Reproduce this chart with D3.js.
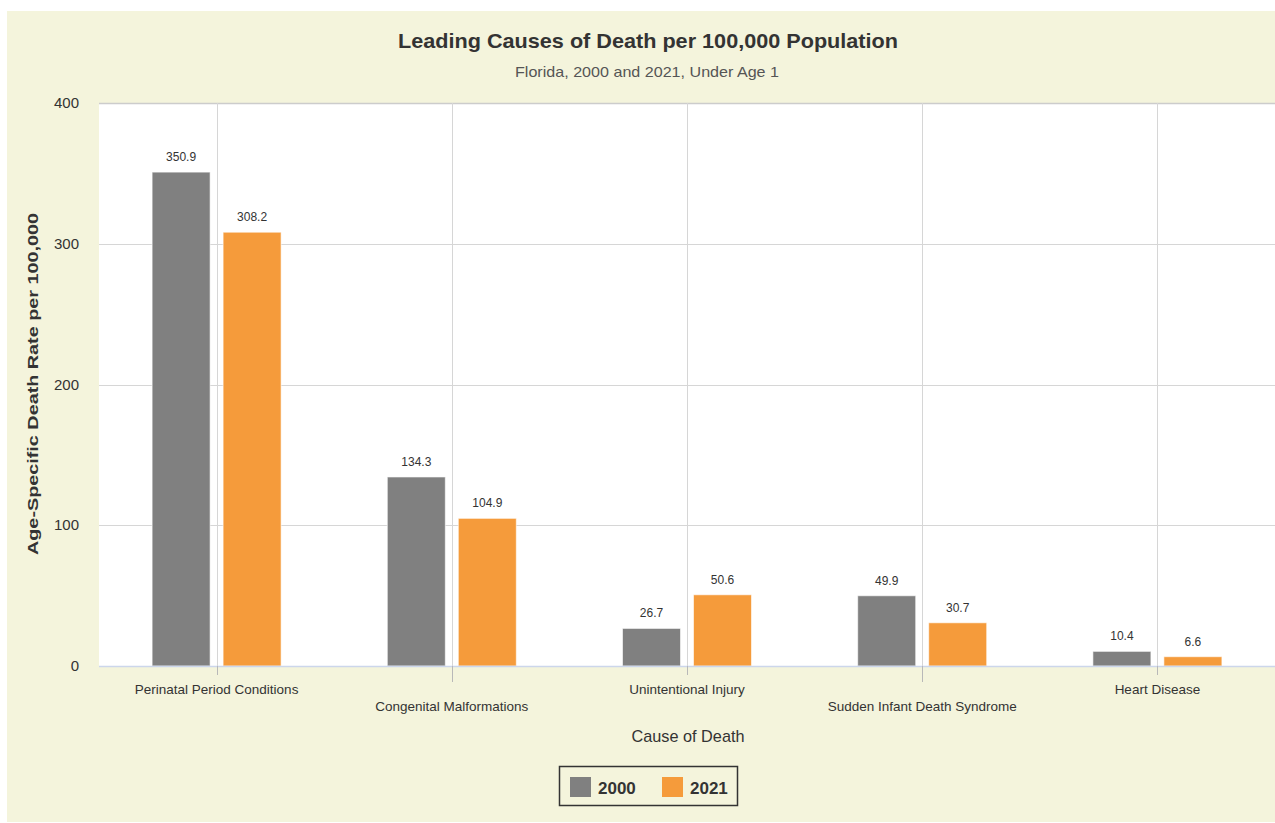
<!DOCTYPE html>
<html>
<head>
<meta charset="utf-8">
<script src="https://cdn.jsdelivr.net/npm/d3@7"></script>
<style>
  html, body { margin: 0; padding: 0; background: #ffffff; }
  svg { display: block; font-family: "Liberation Sans", Arial, sans-serif; }
</style>
</head>
<body>
<svg id="chart" width="1275" height="823"></svg>
<script>
// ---- data ----
const categories = ["Perinatal Period Conditions", "Congenital Malformations", "Unintentional Injury", "Sudden Infant Death Syndrome", "Heart Disease"];
const seriesNames = ["2000", "2021"];
const values2000 = [350.9, 134.3, 26.7, 49.9, 10.4];
const values2021 = [308.2, 104.9, 50.6, 30.7, 6.6];
const yTicks = [0, 100, 200, 300, 400];
const titleText = "Leading Causes of Death per 100,000 Population";
const subtitleText = "Florida, 2000 and 2021, Under Age 1";
const yTitleText = "Age-Specific Death Rate per 100,000";
const xTitleText = "Cause of Death";

const colors = { "2000": "#808080", "2021": "#f59b3b" };
const seriesValues = { "2000": values2000, "2021": values2021 };

const svg = d3.select("#chart");
const W = 1275, H = 823;

// background
svg.append("rect").attr("x", 0).attr("y", 0).attr("width", W).attr("height", H).attr("fill", "#ffffff");
svg.append("rect").attr("x", 7).attr("y", 11).attr("width", W - 7).attr("height", 811).attr("fill", "#f4f4dc");

const plot = { left: 99, right: 1275, top: 103, bottom: 666 };
const x = d3.scaleBand().domain(categories).range([plot.left, plot.right]).padding(0);
const bw = x.bandwidth();
const x1 = d3.scaleBand().domain(seriesNames).range([bw / 2 - 64.5, bw / 2 + 64.5]).paddingInner(0.183).paddingOuter(0);
const y = d3.scaleLinear().domain([0, 400]).range([plot.bottom, plot.top]);

svg.append("rect").attr("x", plot.left).attr("y", plot.top).attr("width", plot.right - plot.left).attr("height", plot.bottom - plot.top).attr("fill", "#ffffff");

function fit(sel, target) {
  const node = sel.node();
  const len = node.getComputedTextLength();
  if (target && len > 0) sel.attr("textLength", target).attr("lengthAdjust", "spacingAndGlyphs");
  return sel;
}

// horizontal gridlines
svg.append("g").selectAll("line").data(yTicks).join("line")
  .attr("x1", plot.left).attr("x2", plot.right)
  .attr("y1", d => Math.round(y(d)) + 0.5).attr("y2", d => Math.round(y(d)) + 0.5)
  .attr("stroke", d => d === 400 ? "#cccccc" : "#d6d6d6").attr("stroke-width", d => d === 400 ? 1.5 : 1);

// vertical gridlines at category centres
svg.append("g").selectAll("line").data(categories).join("line")
  .attr("x1", d => Math.round(x(d) + bw / 2) + 0.5).attr("x2", d => Math.round(x(d) + bw / 2) + 0.5)
  .attr("y1", plot.top).attr("y2", plot.bottom)
  .attr("stroke", "#d6d6d6").attr("stroke-width", 1);

// y axis labels
svg.append("g").selectAll("text").data(yTicks).join("text")
  .attr("x", 79).attr("y", d => y(d) + 5)
  .attr("text-anchor", "end").attr("font-size", 15).attr("fill", "#333333")
  .text(d => d);

// bars
const groups = svg.append("g").selectAll("g").data(categories).join("g")
  .attr("transform", d => `translate(${x(d)},0)`);
groups.selectAll("rect").data((d, i) => seriesNames.map(s => ({ s, v: seriesValues[s][i] }))).join("rect")
  .attr("x", d => x1(d.s)).attr("width", x1.bandwidth())
  .attr("y", d => y(d.v)).attr("height", d => y(0) - y(d.v))
  .attr("fill", d => colors[d.s]).attr("stroke", "#ffffff").attr("stroke-opacity", 0.6).attr("stroke-width", 1);
groups.selectAll("text").data((d, i) => seriesNames.map(s => ({ s, v: seriesValues[s][i] }))).join("text")
  .attr("x", d => x1(d.s) + x1.bandwidth() / 2).attr("y", d => y(d.v) - 11)
  .attr("text-anchor", "middle").attr("font-size", 12).attr("fill", "#333333")
  .text(d => d.v.toFixed(1));

// x axis line
svg.append("line").attr("x1", plot.left).attr("x2", plot.right).attr("y1", plot.bottom + 0.5).attr("y2", plot.bottom + 0.5)
  .attr("stroke", "#ccd6eb").attr("stroke-width", 1.5);
// ticks and staggered labels
svg.append("g").selectAll("line").data(categories).join("line")
  .attr("x1", d => Math.round(x(d) + bw / 2) + 0.5).attr("x2", d => Math.round(x(d) + bw / 2) + 0.5)
  .attr("y1", plot.bottom).attr("y2", (d, i) => plot.bottom + (i % 2 ? 16 : 9))
  .attr("stroke", "#b8b8b8").attr("stroke-width", 1);
svg.append("g").selectAll("text").data(categories).join("text")
  .attr("x", d => x(d) + bw / 2).attr("y", (d, i) => (i % 2 ? 711 : 694))
  .attr("text-anchor", "middle").attr("font-size", 13.5).attr("fill", "#333333")
  .text(d => d);

// titles
fit(svg.append("text").attr("x", 648).attr("y", 48).attr("text-anchor", "middle")
  .attr("font-size", 21).attr("font-weight", "bold").attr("fill", "#333333").text(titleText), 500);
fit(svg.append("text").attr("x", 647).attr("y", 77).attr("text-anchor", "middle")
  .attr("font-size", 15).attr("fill", "#555555").text(subtitleText), 264);
fit(svg.append("text").attr("transform", "translate(38,384) rotate(-90)").attr("text-anchor", "middle")
  .attr("font-size", 15.5).attr("font-weight", "bold").attr("fill", "#333333").text(yTitleText), 342);
fit(svg.append("text").attr("x", 688).attr("y", 742).attr("text-anchor", "middle")
  .attr("font-size", 17).attr("fill", "#333333").text(xTitleText), 113);

// legend
const lg = svg.append("g");
lg.append("rect").attr("x", 559.5).attr("y", 766.5).attr("width", 178).attr("height", 39)
  .attr("fill", "none").attr("stroke", "#333333").attr("stroke-width", 1.5);
const items = lg.selectAll("g").data(seriesNames).join("g")
  .attr("transform", (d, i) => `translate(${570 + i * 92},777)`);
items.append("rect").attr("width", 21).attr("height", 20).attr("fill", d => colors[d]);
items.append("text").attr("x", 28).attr("y", 17).attr("font-size", 17).attr("font-weight", "bold").attr("fill", "#333333").text(d => d);
</script>
</body>
</html>
